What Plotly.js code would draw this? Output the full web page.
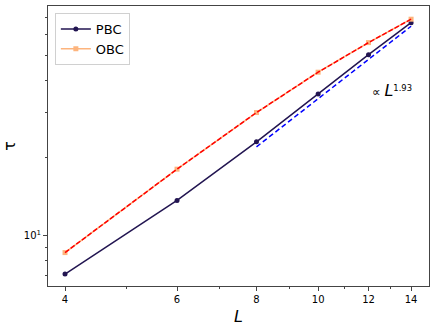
<!DOCTYPE html>
<html>
<head>
<meta charset="utf-8">
<script src="https://cdn.plot.ly/plotly-3.0.1.min.js"></script>
<style>
  html, body { margin: 0; padding: 0; background: #fff; }
  #chart { width: 436px; height: 327px; }
</style>
</head>
<body>
<div id="chart"></div>
<script>
// system sizes
const L = [4, 6, 8, 10, 12, 14];

// relaxation time
const tauPBC = [7.1, 13.7, 23.1, 35.4, 50.3, 66.9];
const tauOBC = [8.6, 18.1, 30.0, 43.0, 56.0, 69.0];

// power-law guide for PBC, L >= 8
const fitL = [8, 14];
const fitTau = [22.1, 64.8];

const xTicks = [4, 6, 8, 10, 12, 14];
const xMinor = [5, 7, 9, 11, 13];
const yTicks = [10];
const yTickText = ['10<sup>1</sup>'];
const yMinor = [7, 8, 9, 20, 30, 40, 50, 60, 70];

const navy = '#221551';
const peach = '#fdb47d';

const traces = [
  {
    x: L, y: tauPBC, name: 'PBC', mode: 'lines+markers',
    line: { color: navy, width: 1.5 },
    marker: { symbol: 'circle', size: 5, color: navy }
  },
  {
    x: L, y: tauOBC, name: 'OBC', mode: 'lines+markers',
    line: { color: peach, width: 1.5 },
    marker: { symbol: 'square', size: 5, color: peach }
  },
  {
    x: L, y: tauOBC, mode: 'lines', showlegend: false,
    line: { color: 'red', width: 1.5, dash: '5px,2px' }
  },
  {
    x: fitL, y: fitTau, mode: 'lines', showlegend: false,
    line: { color: 'blue', width: 1.5, dash: '5px,3px' }
  }
];

const tickFont = { family: 'DejaVu Sans, sans-serif', size: 10, color: '#000' };

const layout = {
  width: 436, height: 327,
  margin: { l: 48, r: 7, t: 6, b: 41 },
  paper_bgcolor: '#fff', plot_bgcolor: '#fff',
  showlegend: true,
  legend: {
    x: 0.018, y: 0.975, xanchor: 'left', yanchor: 'top',
    bgcolor: 'rgba(255,255,255,0.8)', bordercolor: '#d0d0d0', borderwidth: 1,
    font: { family: 'DejaVu Sans, sans-serif', size: 13, color: '#000' },
    tracegroupgap: 0, itemwidth: 30
  },
  xaxis: {
    type: 'log', range: [0.5753, 1.1743],
    tickmode: 'array', tickvals: xTicks, ticktext: xTicks.map(String),
    ticks: 'outside', ticklen: 4, tickcolor: '#444',
    minor: { tickmode: 'array', tickvals: xMinor, ticks: 'outside', ticklen: 2, tickcolor: '#444' },
    showgrid: false, zeroline: false,
    showline: true, mirror: true, linecolor: '#444', linewidth: 1,
    tickfont: tickFont,
    title: { text: '<i>L</i>', font: { family: 'DejaVu Sans, sans-serif', size: 16, color: '#000' }, standoff: 6 }
  },
  yaxis: {
    type: 'log', range: [0.805, 1.890],
    tickmode: 'array', tickvals: yTicks, ticktext: yTickText,
    ticks: 'outside', ticklen: 4, tickcolor: '#444',
    minor: { tickmode: 'array', tickvals: yMinor, ticks: 'outside', ticklen: 2, tickcolor: '#444' },
    showgrid: false, zeroline: false,
    showline: true, mirror: true, linecolor: '#444', linewidth: 1,
    tickfont: tickFont,
    title: { text: 'τ', font: { family: 'DejaVu Sans, sans-serif', size: 16, color: '#000' }, standoff: 8 }
  },
  annotations: [
    {
      x: Math.log10(12.05), y: Math.log10(36.5), xref: 'x', yref: 'y',
      text: '∝ <span style="font-size:16px"><i>L</i></span><sup>1.93</sup>', showarrow: false,
      xanchor: 'left', yanchor: 'middle',
      font: { family: 'DejaVu Sans, sans-serif', size: 12, color: '#000' }
    }
  ]
};

Plotly.newPlot('chart', traces, layout, { displayModeBar: false, staticPlot: true });
</script>
</body>
</html>
